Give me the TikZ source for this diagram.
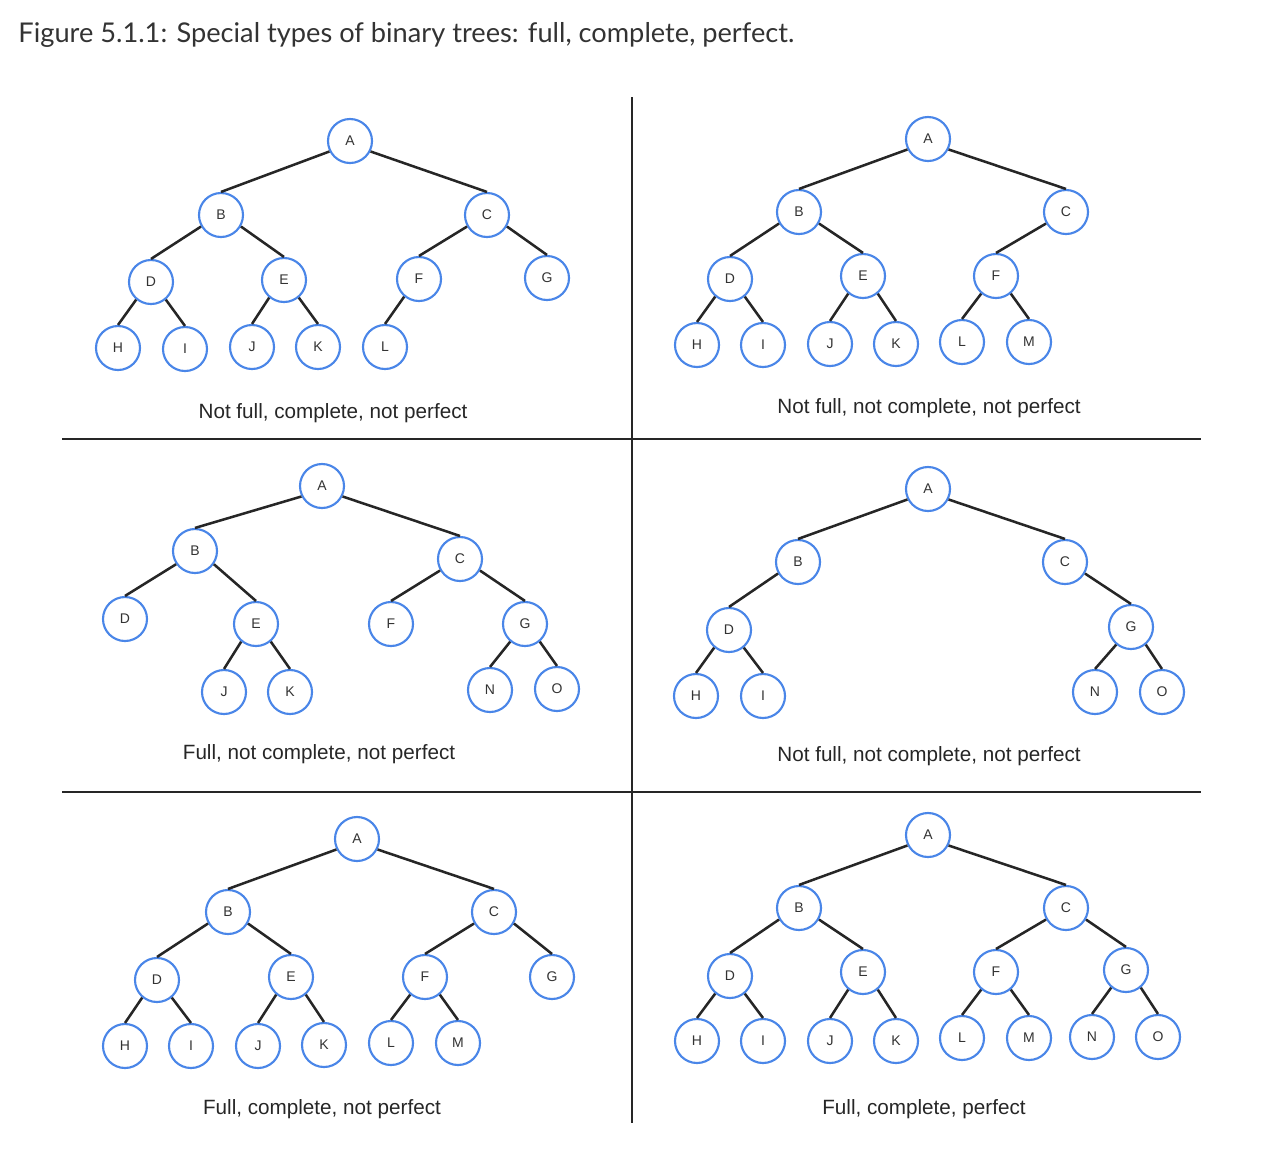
\documentclass[tikz,border=0pt]{standalone}
\usepackage{fontspec}
\setmainfont{Liberation Sans}
\newfontfamily\titlefont{Lato}
\definecolor{nodeblue}{RGB}{74,134,232}
\definecolor{titlegray}{RGB}{51,51,51}
\tikzset{every picture/.style={line width=0.75pt}}
\tikzset{
  tnode/.style={circle, draw=nodeblue, line width=1.6pt, fill=white, minimum size=33pt, inner sep=0pt,
    font=\fontsize{10.5}{12}\selectfont, text=black!80},
  tedge/.style={draw=black!85, line width=1.9pt},
  caption/.style={inner sep=0.75pt, font=\fontsize{15.5}{18}\selectfont, text=black!85},
  divider/.style={draw=black!85, line width=1.5pt}
}

\begin{document}
\begin{tikzpicture}[x=0.75pt,y=0.75pt,yscale=-1,xscale=1]
\path[use as bounding box] (0,0) rectangle (1264,1165);

% Title
\node [anchor=west, inner sep=0pt, font=\titlefont\fontsize{20.4}{24}\selectfont, text=titlegray] (title) at (18,35) {Figure 5.1.1: Special types of binary trees: full, complete, perfect.};

% Dividers
\coordinate (vtop) at (632,97);
\coordinate (vbot) at (632,1123);
\coordinate (h1l) at (62,439);
\coordinate (h1r) at (1201,439);
\coordinate (h2l) at (62,792);
\coordinate (h2r) at (1201,792);
\draw [divider] (vtop) -- (vbot);
\draw [divider] (h1l) -- (h1r);
\draw [divider] (h2l) -- (h2r);

%% Tree 1: not full, complete, not perfect
\node [tnode] (oA) at (350,141) {A};
\node [tnode] (oB) at (221,215) {B};
\node [tnode] (oC) at (487,215) {C};
\node [tnode] (oD) at (151,282) {D};
\node [tnode] (oE) at (284,280) {E};
\node [tnode] (oF) at (419,279) {F};
\node [tnode] (oG) at (547,278) {G};
\node [tnode] (oH) at (118,348) {H};
\node [tnode] (oI) at (185,349) {I};
\node [tnode] (oJ) at (252,347) {J};
\node [tnode] (oK) at (318,347) {K};
\node [tnode] (oL) at (385,347) {L};
\foreach \p/\c/\a in {oA/oB/207,oA/oC/333,oB/oD/210,oB/oE/330,oC/oF/210,oC/oG/330,
    oD/oH/230,oD/oI/310,oE/oJ/230,oE/oK/310,oF/oL/230}
  \draw [tedge] (\p.\a) -- (\c.north);
\node [caption] (cap1) at (333,413) {Not full, complete, not perfect};

%% Tree 2: not full, not complete, not perfect
\node [tnode] (tA) at (928,139) {A};
\node [tnode] (tB) at (799,212) {B};
\node [tnode] (tC) at (1066,212) {C};
\node [tnode] (tD) at (730,279) {D};
\node [tnode] (tE) at (863,276) {E};
\node [tnode] (tF) at (996,276) {F};
\node [tnode] (tH) at (697,345) {H};
\node [tnode] (tI) at (763,345) {I};
\node [tnode] (tJ) at (830,344) {J};
\node [tnode] (tK) at (896,344) {K};
\node [tnode] (tL) at (962,342) {L};
\node [tnode] (tM) at (1029,342) {M};
\foreach \p/\c/\a in {tA/tB/207,tA/tC/333,tB/tD/210,tB/tE/330,tC/tF/210,
    tD/tH/230,tD/tI/310,tE/tJ/230,tE/tK/310,tF/tL/230,tF/tM/310}
  \draw [tedge] (\p.\a) -- (\c.north);
\node [caption] (cap2) at (929,408) {Not full, not complete, not perfect};

%% Tree 3: full, not complete, not perfect
\node [tnode] (rA) at (322,486) {A};
\node [tnode] (rB) at (195,551) {B};
\node [tnode] (rC) at (460,559) {C};
\node [tnode] (rD) at (125,619) {D};
\node [tnode] (rE) at (256,624) {E};
\node [tnode] (rF) at (391,624) {F};
\node [tnode] (rG) at (525,624) {G};
\node [tnode] (rJ) at (224,692) {J};
\node [tnode] (rK) at (290,692) {K};
\node [tnode] (rN) at (490,690) {N};
\node [tnode] (rO) at (557,689) {O};
\foreach \p/\c/\a in {rA/rB/207,rA/rC/333,rB/rD/215,rB/rE/325,rC/rF/210,rC/rG/330,
    rE/rJ/230,rE/rK/310,rG/rN/230,rG/rO/310}
  \draw [tedge] (\p.\a) -- (\c.north);
\node [caption] (cap3) at (319,754) {Full, not complete, not perfect};

%% Tree 4: not full, not complete, not perfect
\node [tnode] (fA) at (928,489) {A};
\node [tnode] (fB) at (798,562) {B};
\node [tnode] (fC) at (1065,562) {C};
\node [tnode] (fD) at (729,630) {D};
\node [tnode] (fG) at (1131,627) {G};
\node [tnode] (fH) at (696,696) {H};
\node [tnode] (fI) at (763,696) {I};
\node [tnode] (fN) at (1095,692) {N};
\node [tnode] (fO) at (1162,692) {O};
\foreach \p/\c/\a in {fA/fB/207,fA/fC/333,fB/fD/210,fC/fG/330,
    fD/fH/230,fD/fI/310,fG/fN/230,fG/fO/310}
  \draw [tedge] (\p.\a) -- (\c.north);
\node [caption] (cap4) at (929,756) {Not full, not complete, not perfect};

%% Tree 5: full, complete, not perfect
\node [tnode] (vA) at (357,839) {A};
\node [tnode] (vB) at (228,912) {B};
\node [tnode] (vC) at (494,912) {C};
\node [tnode] (vD) at (157,980) {D};
\node [tnode] (vE) at (291,977) {E};
\node [tnode] (vF) at (425,977) {F};
\node [tnode] (vG) at (552,977) {G};
\node [tnode] (vH) at (125,1046) {H};
\node [tnode] (vI) at (191,1046) {I};
\node [tnode] (vJ) at (258,1046) {J};
\node [tnode] (vK) at (324,1045) {K};
\node [tnode] (vL) at (391,1043) {L};
\node [tnode] (vM) at (458,1043) {M};
\foreach \p/\c/\a in {vA/vB/207,vA/vC/333,vB/vD/210,vB/vE/330,vC/vF/210,vC/vG/330,
    vD/vH/230,vD/vI/310,vE/vJ/230,vE/vK/310,vF/vL/230,vF/vM/310}
  \draw [tedge] (\p.\a) -- (\c.north);
\node [caption] (cap5) at (322,1109) {Full, complete, not perfect};

%% Tree 6: full, complete, perfect
\node [tnode] (sA) at (928,835) {A};
\node [tnode] (sB) at (799,908) {B};
\node [tnode] (sC) at (1066,908) {C};
\node [tnode] (sD) at (730,976) {D};
\node [tnode] (sE) at (863,972) {E};
\node [tnode] (sF) at (996,972) {F};
\node [tnode] (sG) at (1126,970) {G};
\node [tnode] (sH) at (697,1041) {H};
\node [tnode] (sI) at (763,1041) {I};
\node [tnode] (sJ) at (830,1041) {J};
\node [tnode] (sK) at (896,1041) {K};
\node [tnode] (sL) at (962,1038) {L};
\node [tnode] (sM) at (1029,1038) {M};
\node [tnode] (sN) at (1092,1037) {N};
\node [tnode] (sO) at (1158,1037) {O};
\foreach \p/\c/\a in {sA/sB/207,sA/sC/333,sB/sD/210,sB/sE/330,sC/sF/210,sC/sG/330,
    sD/sH/230,sD/sI/310,sE/sJ/230,sE/sK/310,sF/sL/230,sF/sM/310,sG/sN/230,sG/sO/310}
  \draw [tedge] (\p.\a) -- (\c.north);
\node [caption] (cap6) at (924,1109) {Full, complete, perfect};

\end{tikzpicture}
\end{document}
